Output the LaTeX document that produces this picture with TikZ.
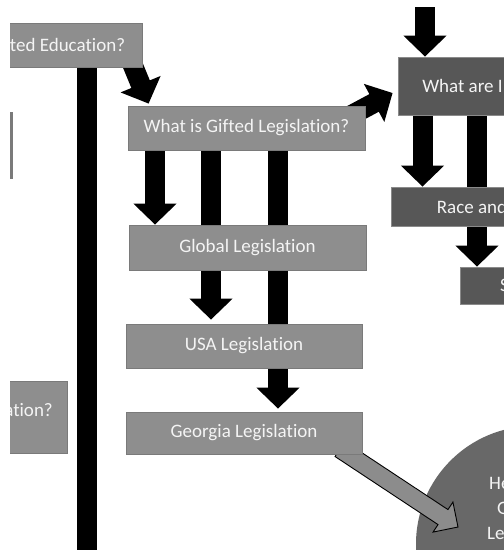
\documentclass[tikz,border=0pt]{standalone}
\usepackage{fontspec}
\setmainfont{Carlito}[Ligatures=NoCommon]
\usetikzlibrary{arrows.meta,calc}
\pgfdeclarelayer{back}
\pgfdeclarelayer{mid}
\pgfsetlayers{back,mid,main}
\definecolor{boxlight}{HTML}{8E8E8E}
\definecolor{boxedge}{HTML}{7A7A7A}
\definecolor{boxdark}{HTML}{575757}
\definecolor{darkedge}{HTML}{8A8A8A}
\definecolor{circfill}{HTML}{686868}
\definecolor{labeltext}{HTML}{F4F4F4}
\definecolor{arrowgray}{HTML}{8C8C8C}
\begin{document}
\begin{tikzpicture}[x=1pt,y=-1pt,
  font=\fontsize{19}{23}\selectfont,
  lbox/.style={draw=boxedge, line width=0.8pt, fill=boxlight, text=labeltext, inner sep=0pt},
  dbox/.style={draw=darkedge, line width=0.8pt, fill=boxdark, text=labeltext, inner sep=0pt},
  lbl/.style={text=labeltext, inner sep=0pt, anchor=west},
  flow/.style={line width=20pt, -{Triangle[width=42pt,length=21pt]}}]
\useasboundingbox (0,0) rectangle (504,550);

% white page and the circle in the lower right corner
\begin{pgfonlayer}{back}
  \fill[white] (0,0) rectangle (504,550);
  \clip (10,7) rectangle (504,550);
  \node[circle, fill=circfill, minimum size=236pt, inner sep=0pt] (impact) at (534,544) {};
  \node[lbl] at (489,483) {He};
  \node[lbl] at (497,508) {G};
  \node[lbl] at (487,533) {Le};
\end{pgfonlayer}

% boxes
\begin{scope}
  \clip (10,7) rectangle (504,550);
  \node[lbox, minimum width=149pt, minimum height=44pt] (edu) at (67.5,45) {ted Education?};
  \node[lbox, minimum width=237pt, minimum height=44pt] (gifted) at (246.5,128) {What is Gifted Legislation?};
  \node[lbox, minimum width=237pt, minimum height=45pt] (global) at (247.5,247.5) {Global Legislation};
  \node[lbox, minimum width=236pt, minimum height=44pt] (usa) at (244,346) {USA Legislation};
  \node[lbox, minimum width=236pt, minimum height=42pt] (georgia) at (244,433) {Georgia Legislation};
  \node[lbox, minimum width=77pt, minimum height=72pt] (side) at (28.7,417) {};
  \node[lbl, anchor=east] at (53,410) {ation?};
  \node[dbox, minimum width=129pt, minimum height=58pt] (whatare) at (462.5,86) {What are I};
  \node[dbox, minimum width=162pt, minimum height=39pt] (race) at (472,206.5) {Race and};
  \node[dbox, minimum width=89pt, minimum height=37pt] (sbox) at (504.5,285.5) {S};
  \fill[boxedge] (10,112) rectangle (12.6,179);
\end{scope}

% connectors
\begin{pgfonlayer}{mid}
  \clip (10,7) rectangle (504,550);
  \coordinate (colA) at (155,0);
  \coordinate (colB) at (211,0);
  \coordinate (colC) at (278,0);
  \coordinate (colF) at (422.5,0);
  \coordinate (colG) at (477,0);
  \coordinate (topin) at (425,7);
  \coordinate (barend) at (87,570);

  \draw[line width=20pt] (edu.south -| barend) -- (barend);
  \draw[flow] ([shift={(-12,-8)}]edu.south east) -- ([shift={(21,-2)}]gifted.north west);
  \draw[flow] ([shift={(-25,-7)}]gifted.east) -- ([shift={(-5,7)}]whatare.west);
  \draw[flow] (gifted.south -| colA) -- (global.north -| colA);
  \draw[flow] (gifted.south -| colB) -- ($(usa.north -| colB)+(0,-4)$);
  \draw[flow] (gifted.south -| colC) -- ($(georgia.north -| colC)+(0,-3)$);
  \draw[flow] (topin) -- (whatare.north -| topin);
  \draw[flow] (whatare.south -| colF) -- (race.north -| colF);
  \draw[flow] (whatare.south -| colG) -- (sbox.north -| colG);

  % outlined block arrow from Georgia Legislation into the circle
  \coordinate (ga) at ([shift={(96,16)}]georgia.center);
  \coordinate (gb) at ([shift={(-76,-17)}]impact.center);
  \coordinate (gh) at ($(gb)!18pt!(ga)$);
  \filldraw[fill=arrowgray, draw=black, line width=0.9pt, line join=miter]
    ($(ga)!9pt!90:(gb)$) -- ($(gh)!9pt!90:(gb)$) -- ($(gh)!18pt!90:(gb)$)
    -- (gb) -- ($(gh)!18pt!-90:(gb)$) -- ($(gh)!9pt!-90:(gb)$)
    -- ($(ga)!9pt!-90:(gb)$) -- cycle;
\end{pgfonlayer}
\end{tikzpicture}
\end{document}
